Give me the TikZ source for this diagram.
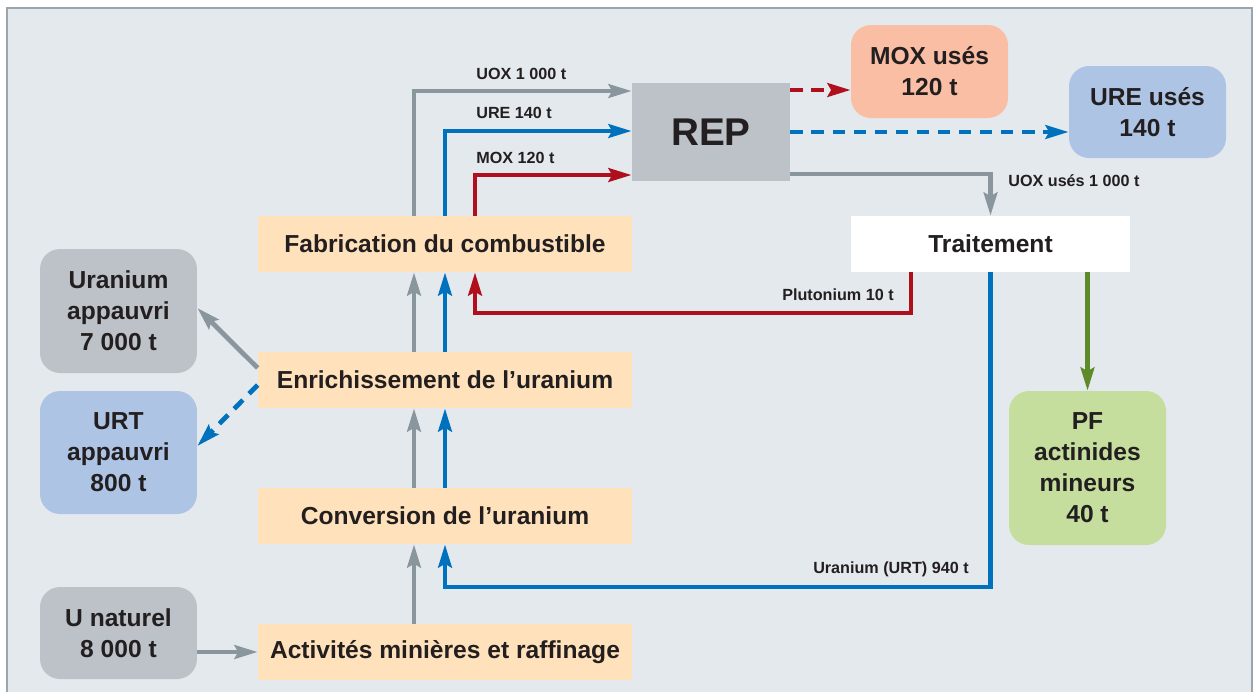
\documentclass[tikz,border=0pt]{standalone}
\usepackage{fontspec}
\setmainfont{Liberation Sans}
\definecolor{BgGrey}{HTML}{E4E9EE}
\definecolor{FrameGrey}{HTML}{9CA5AB}
\definecolor{StepOrange}{HTML}{FFE2BB}
\definecolor{BoxGrey}{HTML}{BCC2C7}
\definecolor{BoxBlue}{HTML}{AEC4E4}
\definecolor{BoxSalmon}{HTML}{F9BEA4}
\definecolor{BoxGreen}{HTML}{C5DE9E}
\definecolor{FlowGrey}{HTML}{8A969E}
\definecolor{FlowBlue}{HTML}{0071BC}
\definecolor{FlowRed}{HTML}{B0101E}
\definecolor{FlowGreen}{HTML}{5E8A2A}
\definecolor{TextDark}{HTML}{231F20}
\usetikzlibrary{arrows.meta}

\tikzset{
  stepbox/.style={fill=StepOrange, minimum width=7.48cm, minimum height=1.12cm, inner sep=0pt,
    font=\bfseries\fontsize{14}{17.6}\selectfont, text=TextDark},
  stockbox/.style={rounded corners=0.4cm, minimum width=3.14cm, inner sep=0pt, align=center,
    font=\bfseries\fontsize{14}{17.6}\selectfont, text=TextDark},
  flowlbl/.style={font=\bfseries\fontsize{9.2}{11}\selectfont, text=TextDark, inner sep=0pt},
  flow/.style={line width=2.7pt, -{Stealth[length=4.6mm, width=2.7mm, inset=0.7mm]}},
  dashflow/.style={flow, dash pattern=on 7pt off 5pt},
}

\begin{document}
\begin{tikzpicture}[x=0.02cm, y=-0.02cm]
  \useasboundingbox (0,0) rectangle (1256,691);
  \fill[white] (0,0) rectangle (1256,691);
  \draw[FrameGrey, line width=1.1pt, fill=BgGrey] (7,700) -- (7,8) -- (1252,8) -- (1252,700);

  \node[stepbox] (fab) at (445,244) {Fabrication du combustible};
  \node[stepbox] (enr) at (445,380) {Enrichissement de l’uranium};
  \node[stepbox] (conv) at (445,516) {Conversion de l’uranium};
  \node[stepbox] (mine) at (445,652) {Activités minières et raffinage};

  \node[fill=BoxGrey, minimum width=3.16cm, minimum height=1.96cm, text=TextDark,
    font=\bfseries\fontsize{22}{26}\selectfont] (rep) at (711,132) {REP};
  \node[stockbox, fill=BoxSalmon, minimum height=1.86cm] (moxu) at (929.5,71.5) {MOX usés\\120 t};
  \node[stockbox, fill=BoxBlue, minimum height=1.84cm] (ureu) at (1147.5,112) {URE usés\\140 t};
  \node[fill=white, minimum width=5.58cm, minimum height=1.12cm, text=TextDark,
    font=\bfseries\fontsize{14}{17.6}\selectfont] (trt) at (990.5,244) {Traitement};
  \node[stockbox, fill=BoxGreen, minimum height=3.08cm] (pf) at (1087.5,468) {PF\\actinides\\mineurs\\40 t};
  \node[stockbox, fill=BoxGrey, minimum height=2.48cm] (uapp) at (118.5,311) {Uranium\\appauvri\\7 000 t};
  \node[stockbox, fill=BoxBlue, minimum height=2.46cm] (urtapp) at (118.5,452.5) {URT\\appauvri\\800 t};
  \node[stockbox, fill=BoxGrey, minimum height=1.84cm] (unat) at (118.5,633) {U naturel\\8 000 t};

  \node[flowlbl, anchor=west] (luox) at (476,74) {UOX 1 000 t};
  \node[flowlbl, anchor=west] (lure) at (476,113) {URE 140 t};
  \node[flowlbl, anchor=west] (lmox) at (476,158) {MOX 120 t};
  \node[flowlbl, anchor=west] (luoxu) at (1008,181) {UOX usés 1 000 t};
  \node[flowlbl, anchor=east] (lpu) at (894,295) {Plutonium 10 t};
  \node[flowlbl, anchor=east] (lurt) at (969,569) {Uranium (URT) 940 t};

  \coordinate (gx) at (414,0);
  \coordinate (bx) at (445,0);
  \coordinate (rx) at (475,0);
  \coordinate (pu) at (911,313);
  \coordinate (ur) at (990.5,587);
  \coordinate (repmox) at ([yshift=0.84cm]rep.east);
  \coordinate (repuox) at ([yshift=-0.84cm]rep.east);

  \draw[flow, FlowGrey] (fab.north -| gx) |- ([yshift=0.82cm]rep.west);
  \draw[flow, FlowBlue] (fab.north -| bx) |- ([yshift=0.02cm]rep.west);
  \draw[flow, FlowRed] (fab.north -| rx) |- ([yshift=-0.86cm]rep.west);
  \draw[dashflow, FlowRed] (repmox) -- (repmox -| moxu.west);
  \draw[dashflow, FlowBlue] (rep.east) -- (rep.east -| ureu.west);
  \draw[flow, FlowGrey] (repuox) -| (trt.north);
  \draw[flow, FlowRed] (trt.south -| pu) -- (pu) -| (fab.south -| rx);
  \draw[flow, FlowBlue] (trt.south) -- (ur) -| (conv.south -| bx);
  \draw[flow, FlowGreen] (trt.south -| pf.north) -- (pf.north);
  \foreach \lo/\hi in {enr/fab, conv/enr} {
    \draw[flow, FlowGrey] (\lo.north -| gx) -- (\hi.south -| gx);
    \draw[flow, FlowBlue] (\lo.north -| bx) -- (\hi.south -| bx);
  }
  \draw[flow, FlowGrey] (mine.north -| gx) -- (conv.south -| gx);
  \draw[flow, FlowGrey] (unat.east |- mine.west) -- (mine.west);
  \draw[flow, FlowGrey] ([yshift=0.24cm]enr.west) -- ([yshift=0.06cm]uapp.east);
  \draw[dashflow, FlowBlue] ([yshift=-0.1cm]enr.west) -- ([yshift=0.13cm]urtapp.east);
\end{tikzpicture}
\end{document}
